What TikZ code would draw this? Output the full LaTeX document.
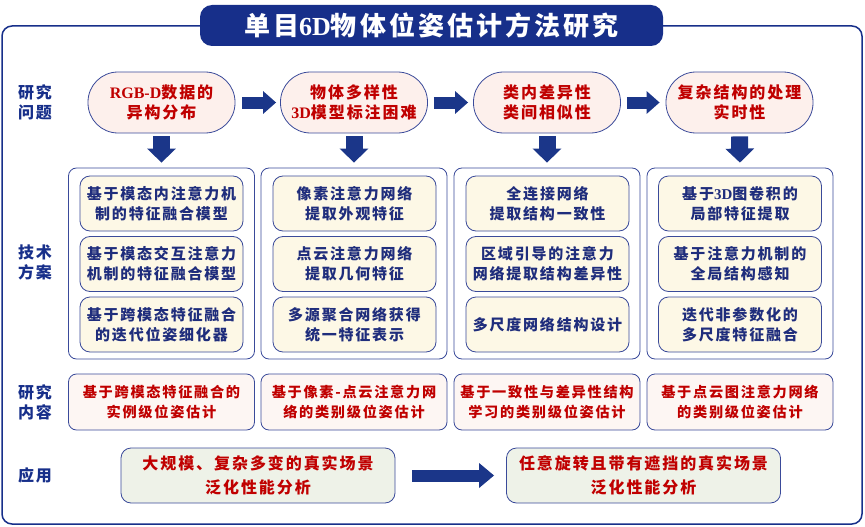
\documentclass[tikz,border=0pt]{standalone}
\usepackage{fontspec}
\setmainfont{Noto Sans CJK SC}[LetterSpace=12]
\newfontfamily\lat{Liberation Serif}
\usetikzlibrary{arrows.meta}
\definecolor{navy}{HTML}{172F8A}
\definecolor{arrowc}{HTML}{1B3689}
\definecolor{edge}{HTML}{3A4A9A}
\definecolor{redt}{HTML}{C00000}
\definecolor{bluet}{HTML}{1F2D7C}
\definecolor{pinkf}{HTML}{FDF0EC}
\definecolor{pinkf2}{HTML}{FDF6F3}
\definecolor{creamf}{HTML}{FDF8E6}
\definecolor{greenf}{HTML}{EEF2E8}
\tikzset{
  problem/.style={draw=edge, line width=0.8pt, fill=pinkf, rounded corners=30pt,
    minimum width=147pt, minimum height=61pt, align=center, text=redt,
    font=\fontsize{16}{20}\selectfont\bfseries, inner sep=0pt},
  column/.style={draw=edge, line width=0.8pt, fill=white, rounded corners=8pt,
    minimum width=186pt, minimum height=191pt, inner sep=0pt},
  tech/.style={draw=edge, line width=0.8pt, fill=creamf, rounded corners=10pt,
    minimum width=163pt, minimum height=55pt, align=center, text=bluet,
    font=\fontsize{15}{20}\selectfont\bfseries, inner sep=0pt},
  content/.style={draw=edge, line width=0.8pt, fill=pinkf2, rounded corners=8pt,
    minimum width=186pt, minimum height=56pt, align=center, text=redt,
    font=\fontsize{14.2}{20}\selectfont\bfseries, inner sep=0pt},
  app/.style={draw=edge, line width=0.8pt, fill=greenf, rounded corners=10pt,
    minimum width=274pt, minimum height=55pt, align=center, text=redt,
    font=\fontsize{16}{24}\selectfont\bfseries, inner sep=0pt},
  rowlabel/.style={text=navy, align=center, font=\fontsize{16}{20}\selectfont\bfseries, inner sep=0pt},
  rarrow/.style={arrowc, line width=12pt, -{Triangle[length=13pt, width=22pt]}},
  darrow/.style={arrowc, line width=17pt, -{Triangle[length=14pt, width=28pt]}},
  bigarrow/.style={arrowc, line width=12pt, -{Triangle[length=15pt, width=24pt]}},
}
\begin{document}
\begin{tikzpicture}[x=1pt,y=-1pt]
\useasboundingbox (0,0) rectangle (865,527);
% outer frame
\draw[navy, line width=1.5pt, rounded corners=10pt] (2,26) rectangle (862,524);
% title
\node[fill=navy, rounded corners=12pt, minimum width=463pt, minimum height=41pt, inner sep=0pt,
  text=white, font=\fontsize{26}{30}\selectfont\bfseries] (title) at (431.5,25.5)
  {单目{\lat 6D}物体位姿估计方法研究};
% row labels
\node[rowlabel] (l1) at (35,102) {研究\\问题};
\node[rowlabel] (l2) at (35,262) {技术\\方案};
\node[rowlabel] (l3) at (35,402) {研究\\内容};
\node[rowlabel] (l4) at (35,475) {应用};
% problems
\node[problem] (p1) at (161.5,102.5) {{\lat RGB-D}数据的\\异构分布};
\node[problem] (p2) at (354,102.5) {物体多样性\\{\lat 3D}模型标注困难};
\node[problem] (p3) at (547,102.5) {类内差异性\\类间相似性};
\node[problem] (p4) at (739.5,102.5) {复杂结构的处理\\实时性};
% right arrows
\draw[rarrow, shorten <=7pt, shorten >=4pt] (p1.east) -- (p2.west);
\draw[rarrow, shorten <=6pt, shorten >=5pt] (p2.east) -- (p3.west);
\draw[rarrow, shorten <=6pt, shorten >=6pt] (p3.east) -- (p4.west);
% columns
\node[column] (c1) at (161.5,263.5) {};
\node[column] (c2) at (354,263.5) {};
\node[column] (c3) at (547,263.5) {};
\node[column] (c4) at (740,263.5) {};
% down arrows
\foreach \i in {1,2,3,4}{
  \draw[darrow, shorten <=3pt, shorten >=5pt] (p\i.south) -- (c\i.north);
}
% tech boxes
\node[tech] (t11) at (161.5,203.5) {基于模态内注意力机\\制的特征融合模型};
\node[tech] (t12) at (161.5,264) {基于模态交互注意力\\机制的特征融合模型};
\node[tech] (t13) at (161.5,324.5) {基于跨模态特征融合\\的迭代位姿细化器};
\node[tech] (t21) at (354.5,203.5) {像素注意力网络\\提取外观特征};
\node[tech] (t22) at (354.5,264) {点云注意力网络\\提取几何特征};
\node[tech] (t23) at (354.5,324.5) {多源聚合网络获得\\统一特征表示};
\node[tech] (t31) at (547.5,203.5) {全连接网络\\提取结构一致性};
\node[tech] (t32) at (547.5,264) {区域引导的注意力\\网络提取结构差异性};
\node[tech] (t33) at (547.5,324.5) {多尺度网络结构设计};
\node[tech] (t41) at (740,203.5) {基于{\lat 3D}图卷积的\\局部特征提取};
\node[tech] (t42) at (740,264) {基于注意力机制的\\全局结构感知};
\node[tech] (t43) at (740,324.5) {迭代非参数化的\\多尺度特征融合};
% content boxes
\node[content] (r1) at (161.5,402) {基于跨模态特征融合的\\实例级位姿估计};
\node[content] (r2) at (354,402) {基于像素-点云注意力网\\络的类别级位姿估计};
\node[content] (r3) at (547,402) {基于一致性与差异性结构\\学习的类别级位姿估计};
\node[content] (r4) at (740,402) {基于点云图注意力网络\\的类别级位姿估计};
% applications
\node[app] (a1) at (258,475.5) {大规模、复杂多变的真实场景\\泛化性能分析};
\node[app] (a2) at (643.5,475.5) {任意旋转且带有遮挡的真实场景\\泛化性能分析};
\draw[bigarrow, shorten <=17pt, shorten >=12pt] (a1.east) -- (a2.west);
\end{tikzpicture}
\end{document}
